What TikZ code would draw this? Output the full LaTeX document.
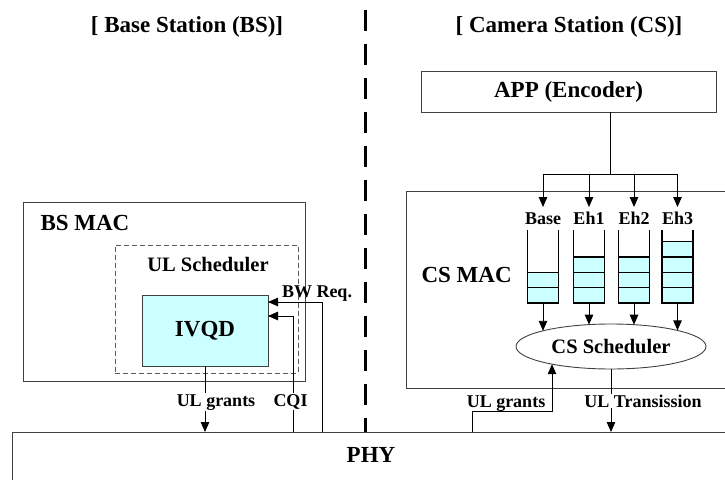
\documentclass[tikz,border=0pt]{standalone}
\usepackage{fontspec}
\setmainfont{Liberation Serif}
\usetikzlibrary{arrows.meta,shapes.geometric}
\definecolor{qcyan}{HTML}{CCFFFF}
\definecolor{boxgray}{HTML}{404040}
\begin{document}
\begin{tikzpicture}[x=1pt,y=-1pt,
  box/.style={draw=boxgray, line width=0.9pt, rectangle, inner sep=0pt, outer sep=0pt},
  big/.style={font=\fontsize{23}{26}\selectfont\bfseries},
  mid/.style={font=\fontsize{20.5}{24}\selectfont\bfseries},
  small/.style={font=\fontsize{18}{20}\selectfont\bfseries},
  arr/.style={-{Triangle[length=10pt,width=8.5pt]}, line width=0.9pt},
  wire/.style={line width=0.9pt},
  lblw/.style={small, fill=white, inner sep=1pt, anchor=base},
  qcol/.style={minimum width=31pt, minimum height=73pt, inner sep=0pt, outer sep=0pt},
  qwall/.style={line width=1.8pt},
  cellst/.style={fill=qcyan, draw=black, line width=1.5pt},
  sepline/.style={line width=3pt, dash pattern=on 21pt off 13pt},
  dashbox/.style={draw=gray!70!black, dash pattern=on 5pt off 3pt, line width=0.9pt, rectangle, inner sep=0pt, outer sep=0pt}
]
\useasboundingbox (0,0) rectangle (725,479);
\clip (0,0) rectangle (725,479);

% titles
\node[big, anchor=base] (tbs) at (187,32) {[ Base Station (BS)]};
\node[big, anchor=base] (tcs) at (569,32) {[ Camera Station (CS)]};

% boxes
\node[box, big, minimum width=295pt, minimum height=41pt] (app) at (568.5,91.5) {APP (Encoder)};
\node[box, minimum width=282pt, minimum height=179pt] (bsmac) at (164,291.5) {};
\node[big, anchor=base west] (bsmacl) at (37,230) {BS MAC};
\node[dashbox, minimum width=183pt, minimum height=128pt] (uls) at (206.5,309) {};
\node[mid] (ulsl) at (208,265) {UL Scheduler};
\node[box, big, fill=qcyan, minimum width=126pt, minimum height=71pt] (ivqd) at (205,330.5) {IVQD};
\node[box, minimum width=354pt, minimum height=197pt] (csmac) at (583,289.5) {};
\node[big, anchor=base west] (csmacl) at (418,282) {CS MAC};
\node[ellipse, draw=boxgray, line width=0.9pt, minimum width=190pt, minimum height=45pt, inner sep=0pt, mid] (sched) at (611,346.5) {CS Scheduler};
\node[box, minimum width=760pt, minimum height=80pt] (phy) at (392,472) {};
\node[big, anchor=base] (phyl) at (371,462) {PHY};

% separator
\coordinate (septop) at (365,10);
\draw[sepline] (septop) -- (septop |- phy.north);

% APP split
\coordinate (split) at (610,174);
\coordinate (tipy) at (0,207);
\draw[wire] (app.south -| split) -- (split);

% queues
\foreach \n/\x/\c/\t/\e in {qb/543/2/Base/330.8, q1/589/3/Eh1/324.6, q2/634/3/Eh2/324.7, q3/677.5/4/Eh3/330.4} {
  \node[qcol] (\n) at (\x,266.5) {};
  \foreach \k in {1,...,\c} {
    \draw[cellst] (\n.south west) ++(0,{-(\k-1)*15.33}) rectangle ++(31,-15.33);
  }
  \draw[qwall] (\n.north west) -- (\n.south west) -- (\n.south east) -- (\n.north east);
  \node[small, anchor=base] (\n-lab) at (\x,224) {\t};
  \draw[arr] (split) -| (\n.north |- tipy);
  \coordinate (\n-e) at (\x,\e);
  \draw[arr] (\n.south) -- (\n-e);
}

% CS side connectors
\draw[arr] (sched.south) -- (sched.south |- phy.north);
\coordinate (gA) at (472,411);
\coordinate (gB) at (552,364.2);
\draw[arr] (phy.north -| gA) -- (gA) -| (gB);

% BS side connectors
\draw[arr] (ivqd.south) -- (ivqd.south |- phy.north);
\coordinate (cq) at (293,316);
\draw[arr] (phy.north -| cq) -- (cq) -- (cq -| ivqd.east);
\coordinate (bw) at (322,302);
\draw[arr] (phy.north -| bw) -- (bw) -- (bw -| ivqd.east);

% labels
\node[lblw] (lgr1) at (216,406) {UL grants};
\node[lblw] (lcqi) at (290.5,406) {CQI};
\node[small, anchor=base] (lbw) at (317,297) {BW Req.};
\node[small, anchor=base] (lgr2) at (506,407) {UL grants};
\node[lblw] (ltx) at (643,407) {UL Transission};
\end{tikzpicture}
\end{document}
